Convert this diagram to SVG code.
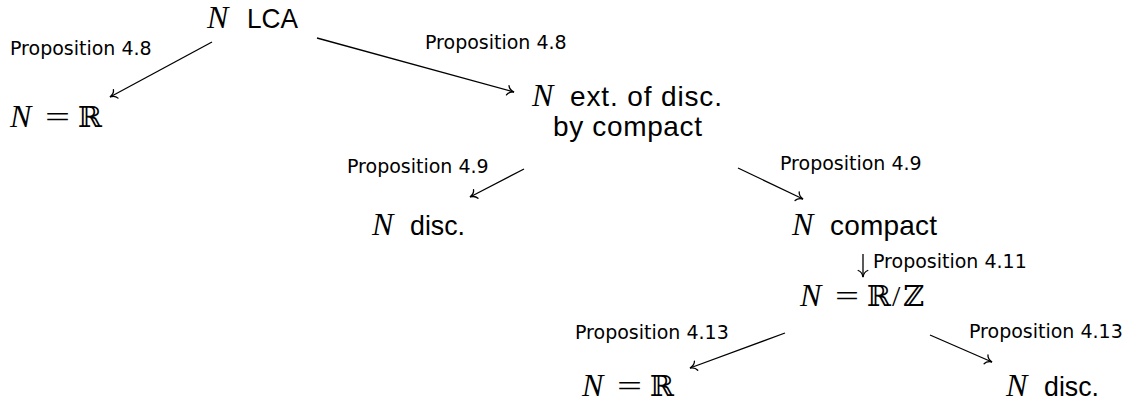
<svg xmlns="http://www.w3.org/2000/svg" width="1136" height="405" viewBox="0 0 1136 405">
<style>
.m{font-family:"Liberation Serif","DejaVu Serif",serif;font-style:italic;font-size:32px;fill:#000}
.r{font-family:"Liberation Serif","DejaVu Serif",serif;font-size:30px;fill:#000}
.bb{font-family:"DejaVu Serif","DejaVu Sans",serif;font-size:29px;fill:#000}
.t{font-family:"Liberation Sans","DejaVu Sans",sans-serif;font-size:28px;fill:#000}
.lb{font-family:"DejaVu Sans","Liberation Sans",sans-serif;font-size:19px;fill:#000}
.e{stroke:#000;stroke-width:1.3;fill:none;marker-end:url(#to)}
</style>
<defs>
<marker id="to" markerUnits="userSpaceOnUse" viewBox="-8 -6 10 12" refX="0" refY="0" markerWidth="10" markerHeight="12" orient="auto">
<path d="M-6.5,-4.8 C-5.4,-1.7 -2,-0.4 0,0 C-2,0.4 -5.4,1.7 -6.5,4.8" fill="none" stroke="#000" stroke-width="1.3" stroke-linecap="round"/>
</marker>
</defs>
<g id="connectors">
<line class="e" x1="212" y1="42" x2="110" y2="97"/>
<line class="e" x1="317" y1="38" x2="514" y2="92"/>
<line class="e" x1="524" y1="169" x2="470" y2="197"/>
<line class="e" x1="738" y1="168" x2="803" y2="199"/>
<line class="e" x1="863" y1="254" x2="863" y2="277"/>
<line class="e" x1="785" y1="333" x2="690" y2="368"/>
<line class="e" x1="930" y1="335" x2="992" y2="362"/>
<text class="lb" x="10" y="55">Proposition 4.8</text>
<text class="lb" x="425" y="49">Proposition 4.8</text>
<text class="lb" x="347" y="173">Proposition 4.9</text>
<text class="lb" x="780" y="170">Proposition 4.9</text>
<text class="lb" x="873" y="268">Proposition 4.11</text>
<text class="lb" x="575" y="339">Proposition 4.13</text>
<text class="lb" x="969" y="338">Proposition 4.13</text>
</g>
<g id="n-lca">
<text class="m" x="207" y="28">N</text>
<text class="t" x="247" y="28" textLength="51" lengthAdjust="spacingAndGlyphs">LCA</text>
</g>
<g id="n-r-top">
<text class="m" x="10" y="127">N</text>
<text class="r" x="45" y="127" textLength="25" lengthAdjust="spacingAndGlyphs">=</text>
<text class="bb" x="78" y="127">ℝ</text>
</g>
<g id="n-ext">
<text class="m" x="532" y="106">N</text>
<text class="t" x="570" y="106" textLength="152" lengthAdjust="spacing">ext. of disc.</text>
<text class="t" x="553" y="136" textLength="149" lengthAdjust="spacing">by compact</text>
</g>
<g id="n-disc-mid">
<text class="m" x="372" y="235">N</text>
<text class="t" x="410" y="235" textLength="55" lengthAdjust="spacingAndGlyphs">disc.</text>
</g>
<g id="n-compact">
<text class="m" x="792" y="235">N</text>
<text class="t" x="830" y="235" textLength="107" lengthAdjust="spacing">compact</text>
</g>
<g id="n-rz">
<text class="m" x="800" y="306">N</text>
<text class="r" x="835" y="306" textLength="24" lengthAdjust="spacingAndGlyphs">=</text>
<text class="bb" x="867" y="306">ℝ</text>
<text class="r" x="892" y="306">/</text>
<text class="bb" x="903" y="306">ℤ</text>
</g>
<g id="n-r-bot">
<text class="m" x="582" y="396">N</text>
<text class="r" x="617" y="396" textLength="25" lengthAdjust="spacingAndGlyphs">=</text>
<text class="bb" x="650" y="396">ℝ</text>
</g>
<g id="n-disc-bot">
<text class="m" x="1006" y="396">N</text>
<text class="t" x="1044" y="396" textLength="55" lengthAdjust="spacingAndGlyphs">disc.</text>
</g>
</svg>
